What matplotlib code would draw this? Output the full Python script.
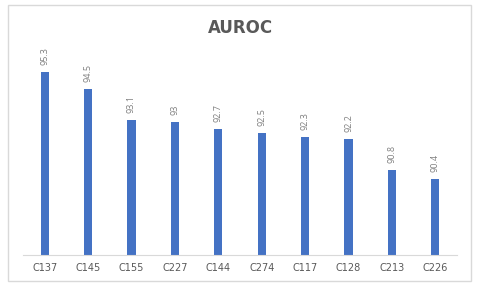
import matplotlib
matplotlib.use("Agg")
import matplotlib.pyplot as plt
from matplotlib.patches import Rectangle

categories = ["C137", "C145", "C155", "C227", "C144", "C274", "C117", "C128", "C213", "C226"]
values = [95.3, 94.5, 93.1, 93.0, 92.7, 92.5, 92.3, 92.2, 90.8, 90.4]
labels = ["95.3", "94.5", "93.1", "93", "92.7", "92.5", "92.3", "92.2", "90.8", "90.4"]

W, H = 480, 289
fig = plt.figure(figsize=(W / 100, H / 100), dpi=100)
fig.patch.set_facecolor("white")

fig.patches.append(Rectangle((8 / W, 1 - 281 / H), (471 - 8) / W, (281 - 5) / H,
                             transform=fig.transFigure, fill=False,
                             edgecolor="#D9D9D9", linewidth=1.0))

ax = fig.add_axes([23 / W, 1 - 255 / H, (457 - 23) / W, (255 - 45) / H])
x = range(len(categories))
ax.bar(x, values, width=0.19, color="#4472C4")
ax.set_xlim(-0.5, len(categories) - 0.5)
ax.set_ylim(86.9, 96.53)
for s in ["top", "right", "left"]:
    ax.spines[s].set_visible(False)
ax.spines["bottom"].set_color("#D9D9D9")
ax.spines["bottom"].set_linewidth(0.8)
ax.set_yticks([])
ax.set_xticks(list(x))
ax.set_xticklabels(categories, fontsize=7, color="#595959", fontfamily="DejaVu Sans")
ax.tick_params(axis="x", length=0, pad=6)

for xi, v, t in zip(x, values, labels):
    ax.annotate(t, (xi, v), xytext=(0, 5), textcoords="offset points",
                rotation=90, ha="center", va="bottom", fontsize=6.5,
                color="#7F7F7F", fontfamily="Open Sans")

fig.text(240 / W, 1 - 28 / H, "AUROC", ha="center", va="center", fontsize=12,
         fontweight="bold", color="#595959", fontfamily="DejaVu Sans")

fig.savefig("out.png", dpi=100)
